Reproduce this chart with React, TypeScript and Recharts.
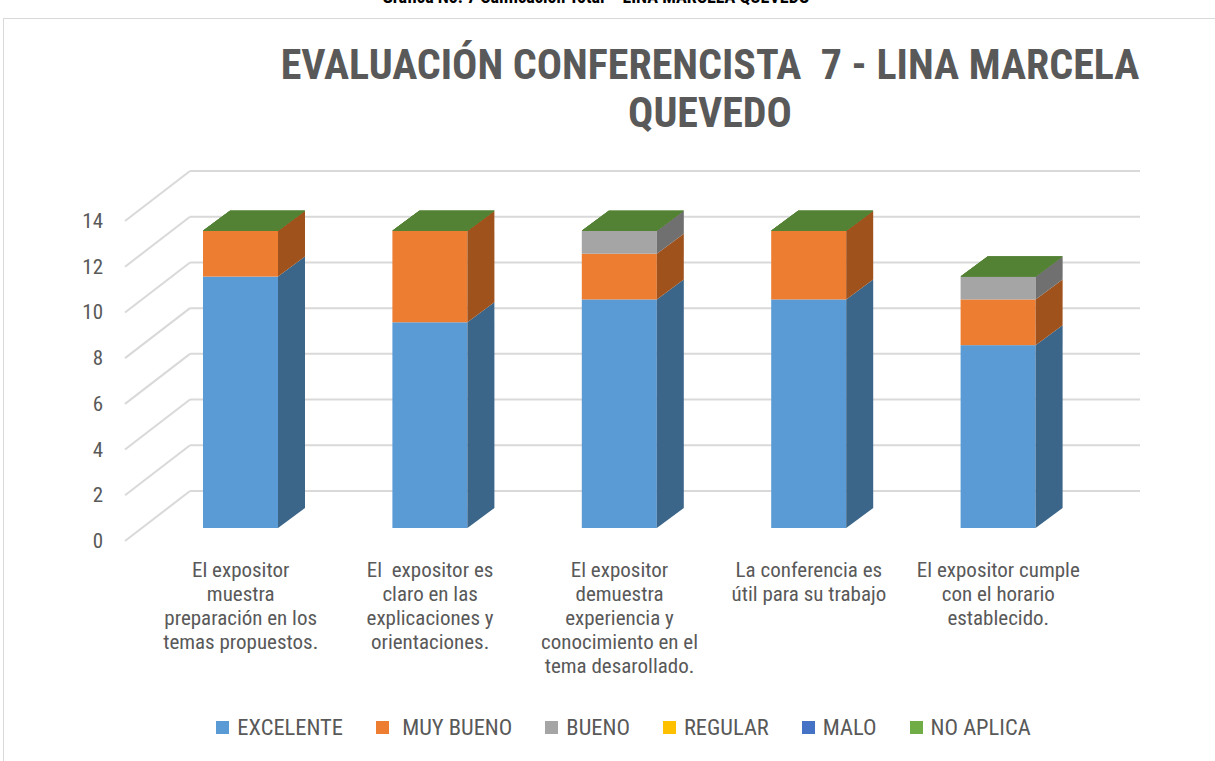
import React from "react";
import { BarChart, Bar, XAxis, YAxis, CartesianGrid, Legend } from "recharts";

const categories = [
  "El expositor\nmuestra\npreparación en los\ntemas propuestos.",
  "El  expositor es\nclaro en las\nexplicaciones y\norientaciones.",
  "El expositor\ndemuestra\nexperiencia y\nconocimiento en el\ntema desarollado.",
  "La conferencia es\nútil para su trabajo",
  "El expositor cumple\ncon el horario\nestablecido.",
];

const excelente = [11, 9, 10, 10, 8];
const muyBueno = [2, 4, 2, 3, 2];
const bueno = [0, 0, 1, 0, 1];
const regular = [0, 0, 0, 0, 0];
const malo = [0, 0, 0, 0, 0];
const noAplica = [0, 0, 0, 0, 0];

const yTicks = [0, 2, 4, 6, 8, 10, 12, 14];

const seriesNames = ["EXCELENTE", " MUY BUENO", "BUENO", "REGULAR", "MALO", "NO APLICA"];
const seriesKeys = ["excelente", "muyBueno", "bueno", "regular", "malo", "noAplica"];
const seriesValues = [excelente, muyBueno, bueno, regular, malo, noAplica];
const frontColors = ["#5B9BD5", "#ED7D31", "#A5A5A5", "#FFC000", "#4472C4", "#70AD47"];
const sideColors = ["#3B6689", "#A0521D", "#707070", "#B08500", "#2F5090", "#4E7A31"];
const TOP_COLOR = "#548235";

const data = categories.map((name, i) => {
  const row: Record<string, number | string> = { name };
  seriesKeys.forEach((k, s) => {
    row[k] = seriesValues[s][i];
  });
  return row;
});

const FONT = "'Liberation Sans Narrow', 'Roboto Condensed', Lato, sans-serif";
const TEXT = "#595959";
const GRID = "#D9D9D9";
const DX = 27;
const DY = -20;

function makeShape(seriesIndex: number) {
  return (props: any) => {
    const { x, y, width, height, payload } = props;
    if (x == null || y == null) return <g />;
    const total = seriesKeys.reduce((acc, k) => acc + Number(payload[k] || 0), 0);
    let cum = 0;
    for (let s = 0; s <= seriesIndex; s++) cum += Number(payload[seriesKeys[s]] || 0);
    const h = Math.max(0, height || 0);
    const isTop = cum === total;
    return (
      <g>
        {h > 0 && (
          <>
            <rect x={x} y={y} width={width} height={h} fill={frontColors[seriesIndex]} />
            <polygon
              points={`${x + width},${y} ${x + width + DX},${y + DY} ${x + width + DX},${y + h + DY} ${x + width},${y + h}`}
              fill={sideColors[seriesIndex]}
            />
          </>
        )}
        {isTop && (
          <polygon
            points={`${x},${y} ${x + width},${y} ${x + width + DX},${y + DY} ${x + DX},${y + DY}`}
            fill={TOP_COLOR}
          />
        )}
      </g>
    );
  };
}

const gridLine = (props: any) => {
  const { x1, y1, x2 } = props;
  return (
    <g key={props.key ?? `g-${y1}`}>
      <line x1={x1 - 21} y1={y1 + 13} x2={x1 + 44} y2={y1 - 37} stroke={GRID} strokeWidth={2} />
      <line x1={x1 + 44} y1={y1 - 37} x2={x2 + 47} y2={y1 - 37} stroke={GRID} strokeWidth={2} />
    </g>
  );
};

const YTick = (props: any) => {
  const { y, payload } = props;
  return (
    <text x={103} y={y + 13} textAnchor="end" dominantBaseline="central" fill={TEXT} fontSize={21} fontFamily={FONT}>
      {payload.value}
    </text>
  );
};

const XTick = (props: any) => {
  const { x, payload } = props;
  const lines = String(payload.value).split("\n");
  return (
    <text textAnchor="middle" fill={TEXT} fontSize={21} fontFamily={FONT} style={{ whiteSpace: "pre" }}>
      {lines.map((l, i) => (
        <tspan key={i} x={x} y={577 + i * 24}>
          {l}
        </tspan>
      ))}
    </text>
  );
};

const LegendContent = () => (
  <div
    style={{
      display: "flex",
      justifyContent: "center",
      paddingLeft: 32,
      fontFamily: FONT,
      fontSize: 22.5,
      color: TEXT,
      whiteSpace: "pre",
    }}
  >
    {seriesNames.map((n, i) => (
      <div key={n} style={{ display: "flex", alignItems: "center", marginRight: i < seriesNames.length - 1 ? 33 : 0 }}>
        <span style={{ width: 13, height: 13, background: frontColors[i], display: "inline-block", marginRight: 8 }} />
        <span>{n}</span>
      </div>
    ))}
  </div>
);

export default function App() {
  return (
    <div
      style={{
        position: "fixed",
        left: 0,
        top: 0,
        width: 1215,
        height: 761,
        background: "#fff",
        overflow: "hidden",
        fontFamily: FONT,
      }}
    >
      <div
        style={{
          position: "absolute",
          left: 3,
          top: 18,
          width: 1400,
          height: 900,
          border: "1.5px solid #D9D9D9",
        }}
      />
      <div
        style={{
          position: "absolute",
          top: -14,
          left: 0,
          width: 1192,
          textAlign: "center",
          fontWeight: "bold",
          fontSize: 18,
          color: "#000",
        }}
      >
        Gráfica No. 7 Calificación Total – LINA MARCELA QUEVEDO
      </div>
      <div
        style={{
          position: "absolute",
          top: 41,
          left: 0,
          width: 1420,
          textAlign: "center",
          fontWeight: "bold",
          fontSize: 42,
          lineHeight: "48px",
          color: TEXT,
          whiteSpace: "pre",
        }}
      >
        {"EVALUACIÓN CONFERENCISTA  7 - LINA MARCELA\nQUEVEDO"}
      </div>
      <div style={{ position: "absolute", left: 0, top: 0 }}>
        <BarChart width={1215} height={761} data={data} margin={{ top: 208, right: 122, bottom: 0, left: 0 }}>
          <CartesianGrid vertical={false} horizontal={gridLine} />
          <XAxis dataKey="name" height={233} axisLine={false} tickLine={false} tick={<XTick />} interval={0} />
          <YAxis
            domain={[0, 14]}
            ticks={yTicks}
            width={146}
            axisLine={false}
            tickLine={false}
            tick={<YTick />}
            interval={0}
          />
          <Legend
            verticalAlign="middle"
            wrapperStyle={{ top: 714, left: 0, width: 1215 }}
            content={<LegendContent />}
          />
          {seriesKeys.map((k, i) => (
            <Bar
              key={k}
              dataKey={k}
              name={seriesNames[i]}
              stackId="a"
              barSize={75}
              fill={frontColors[i]}
              shape={makeShape(i)}
              isAnimationActive={false}
            />
          ))}
        </BarChart>
      </div>
    </div>
  );
}
